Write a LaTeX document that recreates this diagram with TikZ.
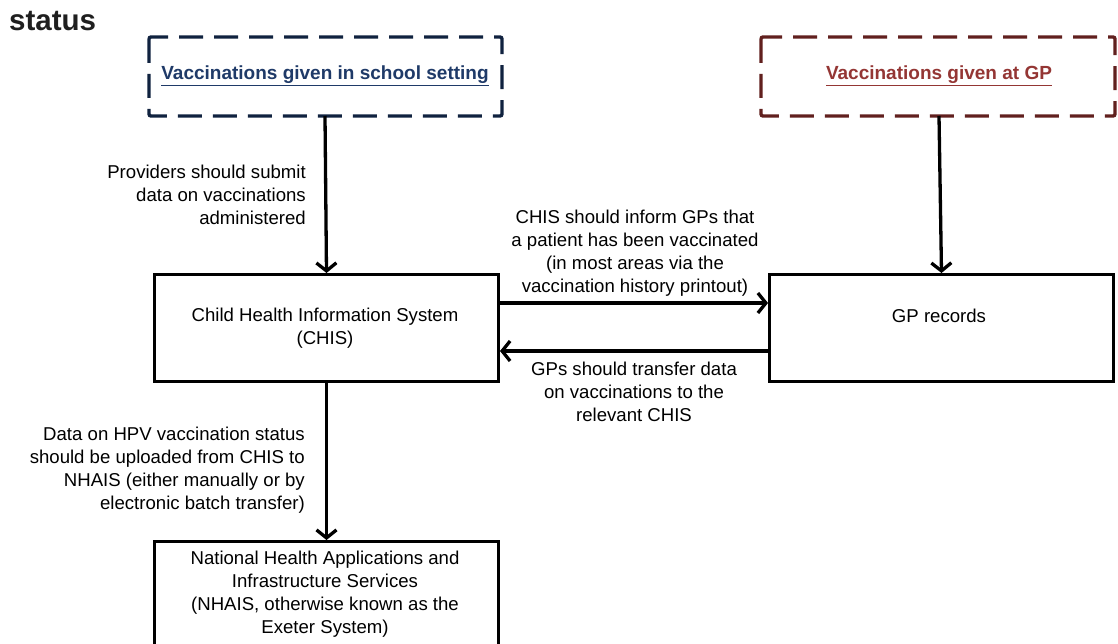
\documentclass[tikz,border=0pt]{standalone}
\usepackage{fontspec}
\setmainfont{Liberation Sans}
\usetikzlibrary{arrows.meta}
\definecolor{navybox}{HTML}{10223F}
\definecolor{navytext}{HTML}{1F3A68}
\definecolor{redbox}{HTML}{61201E}
\definecolor{redtext}{HTML}{943634}
\begin{document}
\begin{tikzpicture}[x=1pt,y=-1pt,
  every node/.style={font=\fontsize{18.6}{22.8}\selectfont, inner sep=0pt},
  solidbox/.style={draw=black, line width=3pt, minimum width=344pt, minimum height=107pt, anchor=north west},
  dashbox/.style={line width=3.4pt, dash pattern=on 24pt off 11pt, rounded corners=2pt},
  conn/.style={line width=3.3pt, -{Straight Barb[length=8pt,width=20pt,line width=3.3pt]}},
  lbl/.style={align=right, anchor=east},
  clbl/.style={align=center}
]
\useasboundingbox (0,0) rectangle (1118,644);
\fill[white] (0,0) rectangle (1118,644);

\node[anchor=west, font=\fontsize{29.5}{33}\selectfont\bfseries, text=black!88] (title) at (9,21) {status};

% dashed source boxes
\draw[dashbox, draw=navybox] (149,37) rectangle (502,116);
\node[font=\fontsize{19}{23}\selectfont\bfseries] (school) at (325,76) {\color{navytext}\underline{Vaccinations given in school setting}};
\coordinate (schoolb) at (325,116);

\draw[dashbox, draw=redbox] (761,37) rectangle (1115,116);
\node[font=\fontsize{19}{23}\selectfont\bfseries] (gpat) at (939,76) {\color{redtext}\underline{Vaccinations given at GP}};
\coordinate (gpatb) at (939,116);

% solid boxes
\node[solidbox] (chis) at (153,273) {};
\node[clbl] (chistxt) at (325,328) {Child Health Information System\\(CHIS)};
\node[solidbox] (gprec) at (768,273) {};
\node (gptxt) at (939,316) {GP records};
\node[solidbox, minimum height=120pt] (nhais) at (153,540) {};
\node[clbl] (nhaistxt) at (325,594) {National Health Applications and\\Infrastructure Services\\(NHAIS, otherwise known as the\\Exeter System)};

% connectors
\draw[conn] (schoolb) -- (chis.north);
\draw[conn] (gpatb) -- (gprec.north);
\draw[conn] (chis.east |- 0,303) -- (gprec.west |- 0,303);
\draw[conn] (gprec.west |- 0,351) -- (chis.east |- 0,351);
\draw[conn] (chis.south) -- (nhais.north);

% labels
\node[lbl] (l1) at (306,195) {Providers should submit\\data on vaccinations\\administered};
\node[clbl] (l2) at (635,253) {CHIS should inform GPs that\\a patient has been vaccinated\\(in most areas via the\\vaccination history printout)};
\node[clbl] (l3) at (634,392) {GPs should transfer data\\on vaccinations to the\\relevant CHIS};
\node[lbl] (l4) at (305,470) {Data on HPV vaccination status\\should be uploaded from CHIS to\\NHAIS (either manually or by\\electronic batch transfer)};
\end{tikzpicture}
\end{document}
